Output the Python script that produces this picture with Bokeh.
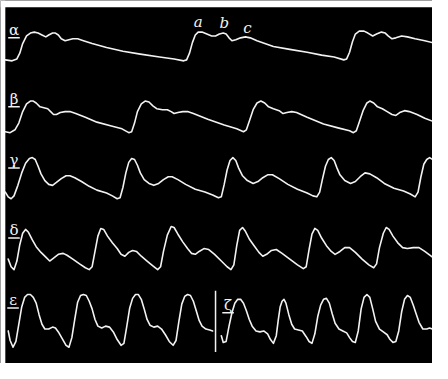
from bokeh.plotting import figure
from bokeh.models import Range1d, ColumnDataSource
from bokeh.core.properties import value
from bokeh.embed import file_html
from bokeh.resources import INLINE

# ---- traces (x, y in picture pixels, y downward) ----
alpha_x = [5,12,17,20,23,27,31,35,39,43,47,50,54,57,60,63,67,71,75,80,86,95,110,127,145,165,180,190,
           193,196,199,202,205,209,214,219,223,227,231,234,237,240,244,249,254,259,266,283,300,318,333,346,356,
           359,362,365,368,372,377,381,386,390,395,399,402,406,410,416,422,430,440,448]
alpha_y = [62,63,61,55,45,37,34,33,34,36,38,36,34,34,36,40,42,41,40,40,42,45,49,53,56,59,61,63,
           62,55,44,36,33,33,35,37,37,35,34,35,39,42,41,39,38,39,42,48,51,54,57,59,62,
           61,54,43,35,32,32,34,37,35,33,34,37,40,39,37,38,40,42,44]

beta_x = [5,10,15,19,23,27,31,34,37,41,45,49,52,55,58,62,67,72,78,88,100,115,126,133,
          136,139,142,146,150,154,158,162,168,173,177,180,184,189,194,200,215,232,245,252,
          255,258,262,266,270,274,278,283,289,293,297,302,307,318,335,350,362,366,
          369,372,376,380,383,387,391,396,401,406,410,414,419,424,432,440,448]
beta_y = [137,138,135,128,116,108,105,105,107,111,112,113,116,119,119,117,116,116,118,122,127,131,134,138,
          137,128,116,108,105,106,110,113,114,114,116,118,117,116,116,118,124,130,134,137,
          135,126,114,107,105,107,111,113,115,118,117,116,117,122,129,133,136,138,
          136,127,115,107,105,107,111,113,116,119,120,117,115,116,119,123,126]

gamma_x = [5,8,11,14,18,22,26,30,33,36,39,42,46,50,54,58,63,68,72,77,84,92,100,110,116,121,
           124,127,130,133,136,139,142,145,149,154,159,164,169,174,178,184,192,202,212,220,226,
           229,232,235,238,241,244,247,251,256,262,267,272,277,282,289,298,308,318,324,328,
           331,334,337,340,343,346,349,352,357,363,368,373,378,383,390,398,408,418,425,430,
           433,436,439,442,445,448]
gamma_y = [200,205,207,204,193,180,170,165,164,166,173,181,188,192,193,190,186,183,183,185,189,194,198,201,204,207,
           206,195,180,169,165,166,172,180,187,191,193,191,187,184,184,187,192,197,200,203,206,
           205,192,177,167,164,167,175,183,188,191,189,185,182,182,186,192,197,201,204,205,
           200,186,173,166,164,167,175,182,188,191,189,184,180,181,185,191,196,199,202,205,
           200,184,171,166,164,166]

delta_x = [8,11,14,17,20,23,26,29,33,37,42,47,51,55,60,65,69,75,82,88,92,
           95,98,101,104,107,111,116,121,125,129,133,137,141,146,152,158,163,
           166,169,173,177,180,184,189,194,198,202,206,211,216,222,229,235,239,
           242,245,248,251,254,258,263,268,272,276,281,286,292,300,308,314,
           317,320,323,326,329,333,338,343,347,352,357,362,368,375,382,387,
           390,393,397,400,403,407,412,417,422,428,434,440,448]
delta_y = [270,278,281,272,255,243,239,242,250,257,263,268,272,269,265,264,266,270,275,279,281,
           278,262,246,238,239,246,253,259,265,267,263,261,262,267,272,277,281,
           278,262,245,236,237,244,252,259,264,265,262,259,260,265,272,278,281,
           276,256,240,237,241,249,256,263,267,265,261,260,264,270,276,280,
           278,260,244,238,240,248,256,262,265,262,258,258,263,270,276,279,
           275,258,243,237,239,246,253,258,259,258,258,262,268]

eps_x = [8,10,13,16,19,22,25,28,31,34,37,40,43,46,50,54,57,60,64,68,
         71,74,77,80,83,86,89,92,95,98,101,105,109,113,117,121,125,
         128,131,134,137,140,143,146,149,152,155,159,163,167,171,175,179,
         182,185,188,191,194,197,200,203,206,209,213,217,220]
eps_y = [345,355,362,356,338,320,310,307,307,310,316,328,338,343,343,341,342,346,353,360,
         362,352,333,315,308,307,308,314,322,333,340,342,340,341,346,354,360,
         358,340,321,311,307,307,312,322,333,339,341,340,343,349,356,360,
         355,335,317,309,307,308,314,324,334,340,343,344,345]

zeta_x = [229,231,234,237,240,243,246,249,252,255,258,261,265,269,273,277,280,283,
          286,288,290,292,294,296,299,302,305,309,313,317,320,323,
          326,329,332,335,338,341,344,347,351,355,359,362,365,368,
          371,374,377,380,383,386,389,393,397,401,404,407,410,
          413,416,419,422,425,428,431,434,438,442,445,448]
zeta_y = [350,357,356,340,326,316,312,312,316,324,333,340,345,346,345,348,354,358,
          350,334,320,314,312,316,328,338,343,344,345,351,356,358,
          348,330,318,312,311,316,327,337,343,345,347,352,356,357,
          345,322,310,307,310,322,335,343,346,349,354,357,356,
          345,325,312,308,310,318,327,336,343,343,342,343]

traces = [(alpha_x, alpha_y), (beta_x, beta_y), (gamma_x, gamma_y),
          (delta_x, delta_y), (eps_x, eps_y), (zeta_x, zeta_y)]

# ---- labels ----
label_text = ["α", "β", "γ", "δ", "ε", "ζ"]
label_x = [14, 14, 14, 14, 13, 236]
label_y = [31, 103, 167, 240, 313, 318]

point_text = ["a", "b", "c"]
point_x = [205, 232, 256]
point_y = [22, 24, 29]

# separator between ε and ζ
sep_x = [223, 223]
sep_y = [303, 367]

# white paper margin of the scan (left and top)
margin_left = [0, 0, 5, 379]
margin_top = [0, 0, 448, 7]

p = figure(width=432, height=363, output_backend="svg", toolbar_location=None,
           x_range=Range1d(0, 448), y_range=Range1d(379, 0),
           min_border=0, background_fill_color="black", border_fill_color="black")
p.axis.visible = False
p.grid.visible = False
p.outline_line_color = None

p.quad(left=[margin_left[0], margin_top[0]], bottom=[margin_left[3], margin_top[3]],
       right=[margin_left[2], margin_top[2]], top=[margin_left[1], margin_top[1]],
       fill_color="white", line_color=None)

for tx, ty in traces:
    p.line(tx, ty, line_color="#f2f2f2", line_width=1.6, line_join="round", line_cap="round")

p.line(sep_x, sep_y, line_color="#f2f2f2", line_width=1.5)

src = ColumnDataSource(dict(x=label_x, y=label_y, t=label_text,
                            ux0=[v - 6 for v in label_x], ux1=[v + 6 for v in label_x],
                            uy=[v + 8 for v in label_y]))
p.text(x="x", y="y", text="t", source=src, text_color="#f2f2f2",
       text_font=value("DejaVu Serif"), text_font_size="15px",
       text_align="center", text_baseline="middle")
p.segment(x0="ux0", y0="uy", x1="ux1", y1="uy", source=src, line_color="#f2f2f2", line_width=1.5)

psrc = ColumnDataSource(dict(x=point_x, y=point_y, t=point_text))
p.text(x="x", y="y", text="t", source=psrc, text_color="#f2f2f2",
       text_font=value("DejaVu Serif"), text_font_style="italic", text_font_size="15px",
       text_align="center", text_baseline="middle")

open("out.html", "w").write(file_html(p, INLINE))
